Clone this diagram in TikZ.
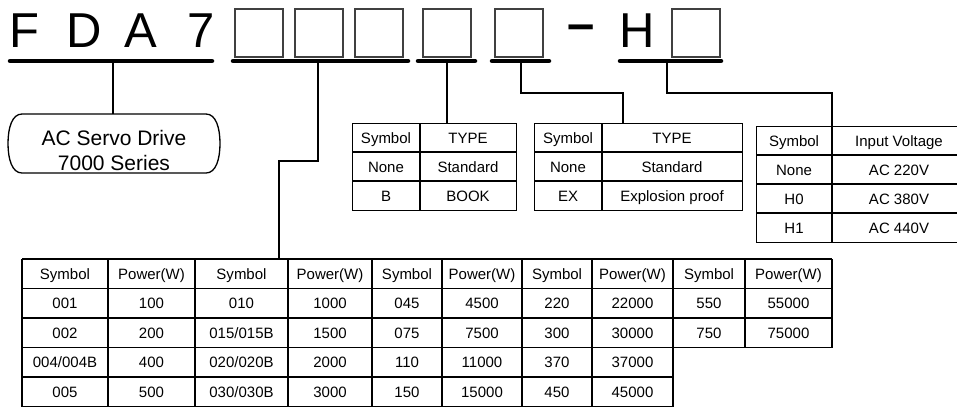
\documentclass[tikz,border=0pt]{standalone}
\usepackage{fontspec}
\setmainfont{Liberation Sans}
\begin{document}
\begin{tikzpicture}[x=1pt,y=-1pt,
  bar/.style={line width=4.5pt,line cap=round},
  conn/.style={line width=2.6pt},
  gridline/.style={line width=1.3pt},
  cell/.style={font=\fontsize{15}{17}\selectfont,inner sep=0pt,anchor=base},
  bigletter/.style={font=\fontsize{49}{50}\selectfont,anchor=base,inner sep=0pt},
  sq/.style={draw=black!75,line width=1.3pt,minimum width=48pt,minimum height=48pt,inner sep=0pt}]
\useasboundingbox (0,0) rectangle (957,407);

% ---------- model code header ----------
\node[bigletter] (F) at (24,47) {F};
\node[bigletter] (D) at (84,47) {D};
\node[bigletter] (A) at (141,47) {A};
\node[bigletter] (seven) at (201,47) {7};
\node[sq] (s1) at (259,33) {};
\node[sq] (s2) at (319,33) {};
\node[sq] (s3) at (379,33) {};
\node[sq] (s4) at (447,33) {};
\node[sq] (s5) at (519,33) {};
\node[bigletter,font=\fontsize{49}{50}\selectfont\bfseries] (dash) at (581.5,40) {–};
\node[bigletter] (H) at (637,47) {H};
\node[sq] (s6) at (696,33) {};

% ---------- bars ----------
\coordinate (b1l) at (10,61);  \coordinate (b1r) at (212,61);
\coordinate (b2l) at (233,61); \coordinate (b2r) at (408,61);
\coordinate (b3l) at (418,61); \coordinate (b3r) at (475,61);
\coordinate (b4l) at (492,61); \coordinate (b4r) at (549,61);
\coordinate (b5l) at (620,61); \coordinate (b5r) at (721,61);
\draw[bar] (b1l) -- (b1r);
\draw[bar] (b2l) -- (b2r);
\draw[bar] (b3l) -- (b3r);
\draw[bar] (b4l) -- (b4r);
\draw[bar] (b5l) -- (b5r);
\coordinate (c1) at (113,61);
\coordinate (c2) at (318,61);
\coordinate (c3) at (447,61);
\coordinate (c4) at (521,61);
\coordinate (c5) at (667,61);

% ---------- series box ----------
\node[minimum width=212pt,minimum height=59pt,inner sep=0pt] (series) at (114,143.5) {};
\draw[line width=1.3pt] (22,114) -- (206,114)
  .. controls (216,114) and (220,128) .. (220,143.5)
  .. controls (220,159) and (216,173) .. (206,173) -- (22,173)
  .. controls (12,173) and (8,159) .. (8,143.5)
  .. controls (8,128) and (12,114) .. (22,114) -- cycle;
\node[font=\fontsize{21}{25}\selectfont,align=center,inner sep=0pt,anchor=base] (serieslbl) at (114,170) {AC Servo Drive\\7000 Series};

% ---------- table 1 (TYPE) ----------
\node[draw,gridline,minimum width=164pt,minimum height=87pt,inner sep=0pt,anchor=north west] (tab1) at (352,123) {};
\draw[gridline] (352,152) -- (516,152) (352,181) -- (516,181) (420,123) -- (420,210);
\node[cell] (t1a) at (386,143) {Symbol};
\node[cell] (t1b) at (468,143) {TYPE};
\node[cell] (t1c) at (386,172) {None};
\node[cell] (t1d) at (468,172) {Standard};
\node[cell] (t1e) at (386,201) {B};
\node[cell] (t1f) at (468,201) {BOOK};

% ---------- table 2 (TYPE) ----------
\node[draw,gridline,minimum width=208pt,minimum height=87pt,inner sep=0pt,anchor=north west] (tab2) at (534,123) {};
\draw[gridline] (534,152) -- (742,152) (534,181) -- (742,181) (602,123) -- (602,210);
\node[cell] (t2a) at (568,143) {Symbol};
\node[cell] (t2b) at (672,143) {TYPE};
\node[cell] (t2c) at (568,172) {None};
\node[cell] (t2d) at (672,172) {Standard};
\node[cell] (t2e) at (568,201) {EX};
\node[cell] (t2f) at (672,201) {Explosion proof};

% ---------- table 3 (Input Voltage) ----------
\node[draw,gridline,minimum width=210pt,minimum height=116pt,inner sep=0pt,anchor=north west] (tab3) at (756,126) {};
\draw[gridline] (756,155) -- (966,155) (756,184) -- (966,184) (756,213) -- (966,213) (832,126) -- (832,242);
\node[cell] (t3a) at (794,146) {Symbol};
\node[cell] (t3b) at (899,146) {Input Voltage};
\node[cell] (t3c) at (794,175) {None};
\node[cell] (t3d) at (899,175) {AC 220V};
\node[cell] (t3e) at (794,204) {H0};
\node[cell] (t3f) at (899,204) {AC 380V};
\node[cell] (t3g) at (794,233) {H1};
\node[cell] (t3h) at (899,233) {AC 440V};

% ---------- power table ----------
\coordinate (ptop) at (279,259);
\foreach \yy in {259,288.5,318,347.5} \draw[gridline] (22,\yy) -- (832,\yy);
\foreach \yy in {377,406.5} \draw[gridline] (22,\yy) -- (673,\yy);
\foreach \xx in {22,108,195,288,372,442,522,592,673} \draw[gridline] (\xx,259) -- (\xx,406.5);
\foreach \xx in {745,832} \draw[gridline] (\xx,259) -- (\xx,347.5);

\node[cell] (h1) at (65,279) {Symbol};
\node[cell] (h2) at (151.5,279) {Power(W)};
\node[cell] (h3) at (241.5,279) {Symbol};
\node[cell] (h4) at (330,279) {Power(W)};
\node[cell] (h5) at (407,279) {Symbol};
\node[cell] (h6) at (482,279) {Power(W)};
\node[cell] (h7) at (557,279) {Symbol};
\node[cell] (h8) at (632.5,279) {Power(W)};
\node[cell] (h9) at (709,279) {Symbol};
\node[cell] (h10) at (788.5,279) {Power(W)};

\node[cell] (r1a) at (65,308.5) {001};
\node[cell] (r1b) at (151.5,308.5) {100};
\node[cell] (r1c) at (241.5,308.5) {010};
\node[cell] (r1d) at (330,308.5) {1000};
\node[cell] (r1e) at (407,308.5) {045};
\node[cell] (r1f) at (482,308.5) {4500};
\node[cell] (r1g) at (557,308.5) {220};
\node[cell] (r1h) at (632.5,308.5) {22000};
\node[cell] (r1i) at (709,308.5) {550};
\node[cell] (r1j) at (788.5,308.5) {55000};

\node[cell] (r2a) at (65,338) {002};
\node[cell] (r2b) at (151.5,338) {200};
\node[cell] (r2c) at (241.5,338) {015/015B};
\node[cell] (r2d) at (330,338) {1500};
\node[cell] (r2e) at (407,338) {075};
\node[cell] (r2f) at (482,338) {7500};
\node[cell] (r2g) at (557,338) {300};
\node[cell] (r2h) at (632.5,338) {30000};
\node[cell] (r2i) at (709,338) {750};
\node[cell] (r2j) at (788.5,338) {75000};

\node[cell] (r3a) at (65,367.5) {004/004B};
\node[cell] (r3b) at (151.5,367.5) {400};
\node[cell] (r3c) at (241.5,367.5) {020/020B};
\node[cell] (r3d) at (330,367.5) {2000};
\node[cell] (r3e) at (407,367.5) {110};
\node[cell] (r3f) at (482,367.5) {11000};
\node[cell] (r3g) at (557,367.5) {370};
\node[cell] (r3h) at (632.5,367.5) {37000};

\node[cell] (r4a) at (65,397) {005};
\node[cell] (r4b) at (151.5,397) {500};
\node[cell] (r4c) at (241.5,397) {030/030B};
\node[cell] (r4d) at (330,397) {3000};
\node[cell] (r4e) at (407,397) {150};
\node[cell] (r4f) at (482,397) {15000};
\node[cell] (r4g) at (557,397) {450};
\node[cell] (r4h) at (632.5,397) {45000};

% ---------- connectors ----------
\draw[conn] (c1) -- (c1 |- series.north);
\draw[conn] (c2) -- ++(0,100) -| (ptop);
\draw[conn] (c3) -- (c3 |- tab1.north);
\draw[conn] (c4) -- ++(0,32) -| (623,123);
\draw[conn] (c5) -- ++(0,32) -| (tab3.north west -| 832,0);
\end{tikzpicture}
\end{document}
